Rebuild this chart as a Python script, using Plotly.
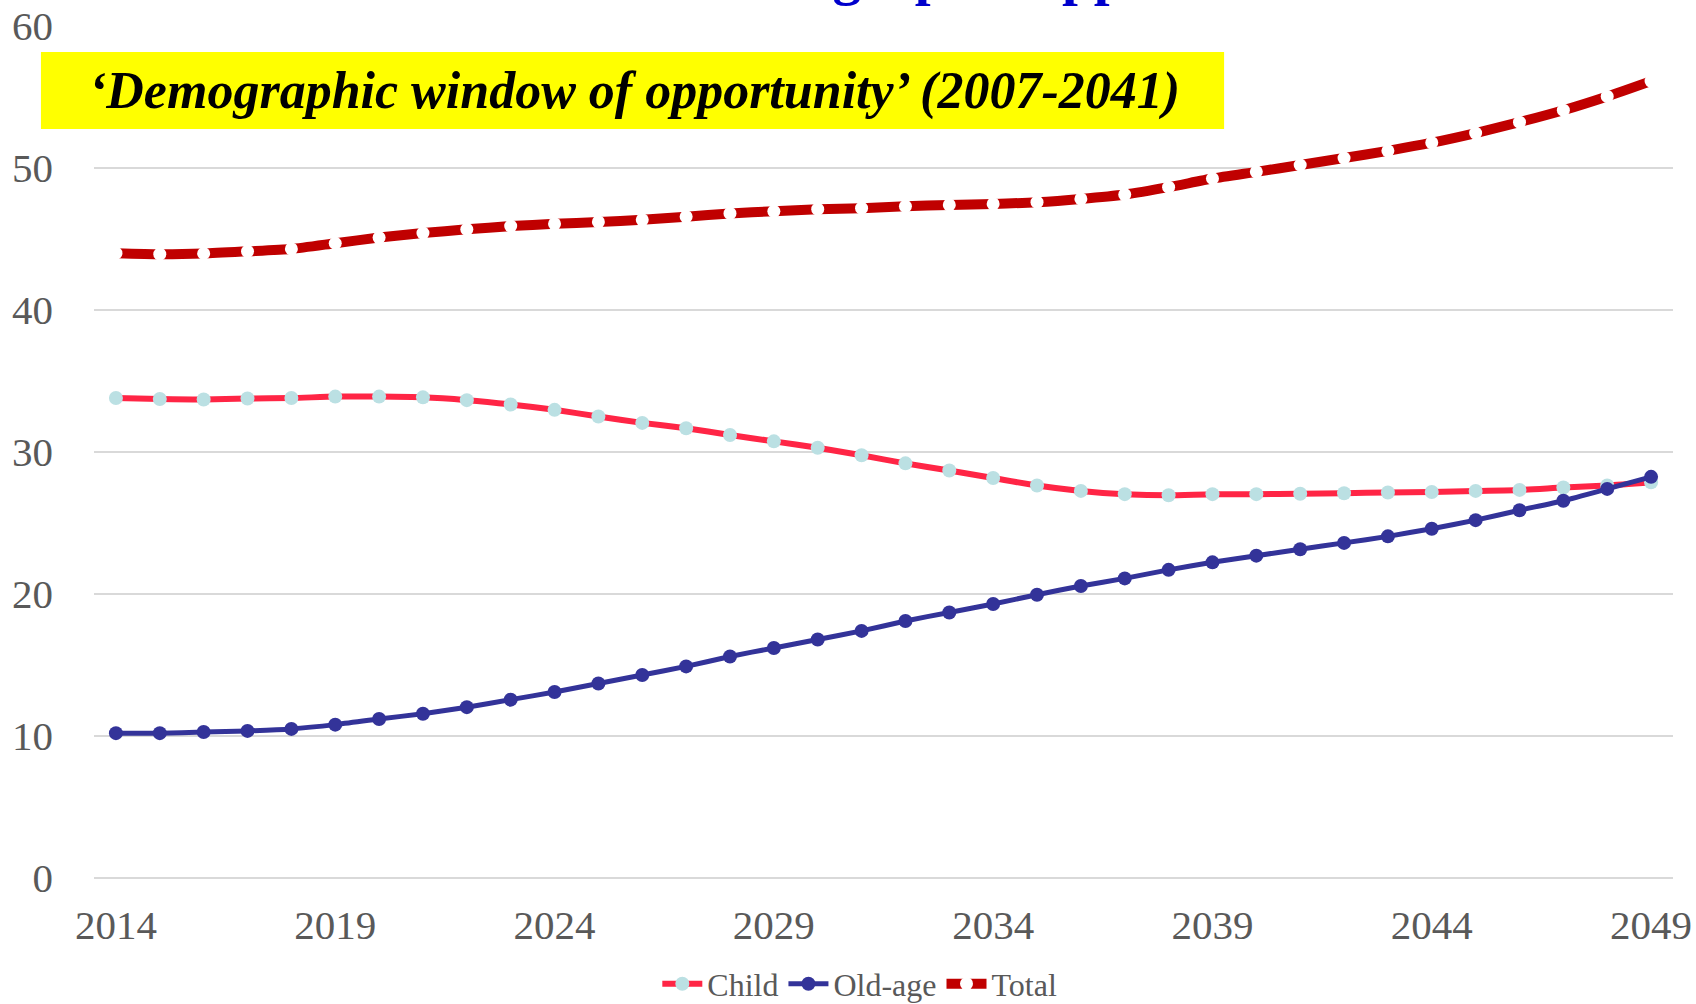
import plotly.graph_objects as go

# Years of projection
years = list(range(2014, 2050))

# Dependency ratios (per 100 working-age population)
child = [33.8, 33.73, 33.7, 33.77, 33.8, 33.9, 33.9, 33.85, 33.65, 33.35,
         32.97, 32.5, 32.05, 31.67, 31.2, 30.75, 30.3, 29.77, 29.2, 28.7,
         28.17, 27.64, 27.26, 27.03, 26.95, 27.03, 27.03, 27.06, 27.1, 27.15,
         27.18, 27.26, 27.33, 27.5, 27.64, 27.87]
old_age = [10.2, 10.2, 10.28, 10.36, 10.5, 10.8, 11.2, 11.57, 12.03, 12.56,
           13.1, 13.7, 14.3, 14.9, 15.6, 16.2, 16.8, 17.4, 18.1, 18.7,
           19.3, 19.95, 20.56, 21.1, 21.7, 22.23, 22.7, 23.15, 23.6, 24.06,
           24.6, 25.2, 25.9, 26.57, 27.4, 28.25]
total = [44.0, 43.93, 43.98, 44.13, 44.3, 44.7, 45.1, 45.42, 45.68, 45.91,
         46.07, 46.2, 46.35, 46.57, 46.8, 46.95, 47.1, 47.17, 47.3, 47.4,
         47.47, 47.59, 47.82, 48.13, 48.65, 49.26, 49.73, 50.21, 50.7, 51.21,
         51.78, 52.46, 53.23, 54.07, 55.04, 56.12]

x_ticks = [2014, 2019, 2024, 2029, 2034, 2039, 2044, 2049]
y_ticks = [0, 10, 20, 30, 40, 50, 60]

window_label = "\u2018Demographic window of opportunity\u2019 (2007-2041)"
title_text = "Demographic approach"

GREY = "#595959"
SERIF = "Liberation Serif, Times New Roman, serif"

fig = go.Figure()
fig.add_trace(go.Scatter(
    x=years, y=child, name="Child", mode="lines+markers",
    line=dict(color="#FF2545", width=6, shape="spline", smoothing=0.6),
    marker=dict(color="#BBE0E3", size=14),
))
fig.add_trace(go.Scatter(
    x=years, y=old_age, name="Old-age", mode="lines+markers",
    line=dict(color="#333399", width=5, shape="spline", smoothing=0.6),
    marker=dict(color="#333399", size=14),
))
fig.add_trace(go.Scatter(
    x=years, y=total, name="Total", mode="lines+markers",
    line=dict(color="#C00000", width=10, shape="spline", smoothing=0.6),
    marker=dict(color="white", size=13, line=dict(width=0)),
))

# Yellow banner for the opportunity window
fig.add_shape(type="rect", xref="paper", yref="paper",
              x0=-0.0336, x1=0.7157, y0=0.879, y1=0.9695,
              fillcolor="#FFFF00", line=dict(width=0), layer="below")
fig.add_annotation(xref="paper", yref="paper", x=0.342, y=0.924,
                   text="<b><i>" + window_label + "</i></b>", showarrow=False,
                   font=dict(family=SERIF, size=52, color="black"),
                   xanchor="center", yanchor="middle")

# Chart heading, running off the top of the page
fig.add_annotation(xref="paper", yref="paper", x=0.376, y=1.061,
                   text="<b>" + title_text + "</b>", showarrow=False,
                   font=dict(family=SERIF, size=57, color="#0000CC"),
                   xanchor="left", yanchor="middle")

fig.update_layout(
    width=1696, height=1004,
    margin=dict(l=94, r=23, t=26, b=126),
    paper_bgcolor="white", plot_bgcolor="white",
    showlegend=True,
    legend=dict(orientation="h", x=0.485, xanchor="center",
                yref="container", y=0.02, yanchor="middle",
                font=dict(family=SERIF, size=32, color=GREY),
                itemwidth=40, tracegroupgap=0),
    xaxis=dict(range=[2013.5, 2049.5], tickvals=x_ticks, showgrid=False,
               zeroline=False, showline=False, ticks="", automargin=False,
               tickfont=dict(family=SERIF, size=41, color=GREY),
               ticklabelstandoff=19),
    yaxis=dict(range=[0, 60], tickvals=y_ticks, showgrid=True,
               gridcolor="#D9D9D9", gridwidth=2, zeroline=True,
               zerolinecolor="#D9D9D9", zerolinewidth=2, showline=False,
               ticks="", automargin=False,
               tickfont=dict(family=SERIF, size=41, color=GREY),
               ticklabelstandoff=40),
)

fig.write_html("out.html")
